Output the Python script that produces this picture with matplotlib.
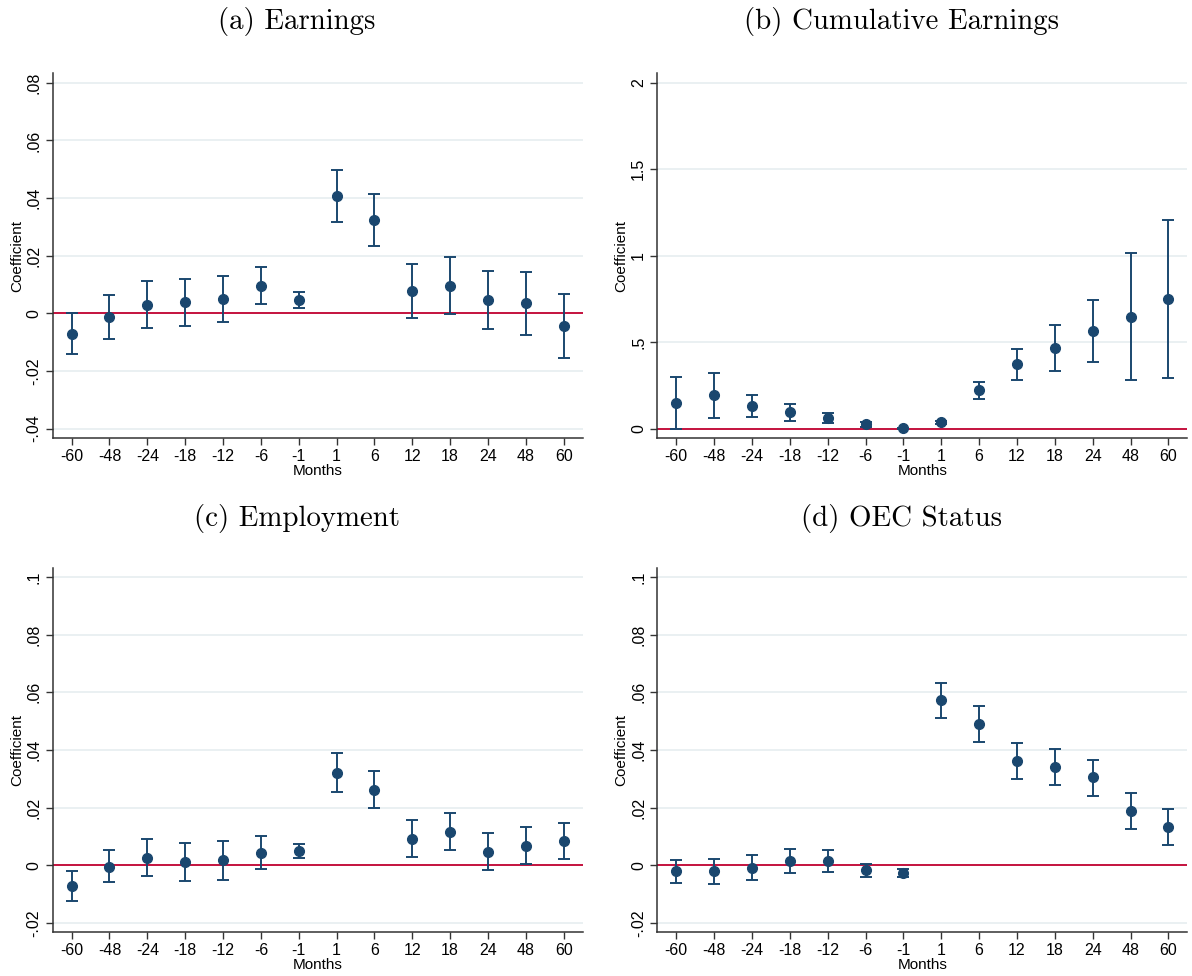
import matplotlib.pyplot as plt
import numpy as np

# event-time categories (months relative to event)
months = ['-60', '-48', '-24', '-18', '-12', '-6', '-1', '1', '6', '12', '18', '24', '48', '60']

# (a) earnings
earn_b = [-0.0071, -0.0013, 0.0029, 0.0038, 0.0050, 0.0095, 0.0046, 0.0407, 0.0323, 0.0077, 0.0096, 0.0046, 0.0034, -0.0043]
earn_lo = [-0.0141, -0.0088, -0.0051, -0.0043, -0.0031, 0.0031, 0.0018, 0.0318, 0.0232, -0.0015, -0.0002, -0.0053, -0.0074, -0.0154]
earn_hi = [0.0000, 0.0062, 0.0111, 0.0119, 0.0131, 0.0161, 0.0075, 0.0496, 0.0415, 0.0172, 0.0197, 0.0148, 0.0145, 0.0068]

# (b) cumulative earnings
cum_b = [0.150, 0.193, 0.129, 0.095, 0.062, 0.025, 0.002, 0.037, 0.222, 0.372, 0.469, 0.563, 0.648, 0.750]
cum_lo = [0.000, 0.062, 0.068, 0.044, 0.033, 0.010, -0.002, 0.027, 0.174, 0.282, 0.336, 0.386, 0.284, 0.295]
cum_hi = [0.301, 0.322, 0.193, 0.145, 0.091, 0.039, 0.006, 0.047, 0.270, 0.463, 0.600, 0.743, 1.013, 1.205]

# (c) employment
emp_b = [-0.0071, -0.0005, 0.0027, 0.0012, 0.0017, 0.0044, 0.0050, 0.0321, 0.0263, 0.0093, 0.0116, 0.0046, 0.0067, 0.0085]
emp_lo = [-0.0122, -0.0059, -0.0037, -0.0053, -0.0051, -0.0013, 0.0027, 0.0253, 0.0198, 0.0029, 0.0052, -0.0017, 0.0005, 0.0023]
emp_hi = [-0.0019, 0.0052, 0.0090, 0.0076, 0.0086, 0.0102, 0.0075, 0.0390, 0.0328, 0.0158, 0.0180, 0.0111, 0.0132, 0.0147]

# (d) OEC status
oec_b = [-0.0021, -0.0021, -0.0008, 0.0014, 0.0015, -0.0017, -0.0027, 0.0574, 0.0490, 0.0362, 0.0341, 0.0305, 0.0189, 0.0132]
oec_lo = [-0.0060, -0.0063, -0.0051, -0.0028, -0.0023, -0.0042, -0.0041, 0.0512, 0.0429, 0.0300, 0.0278, 0.0241, 0.0126, 0.0071]
oec_hi = [0.0017, 0.0021, 0.0036, 0.0056, 0.0052, 0.0006, -0.0013, 0.0633, 0.0552, 0.0424, 0.0404, 0.0367, 0.0251, 0.0194]

yt_a = [-0.04, -0.02, 0, 0.02, 0.04, 0.06, 0.08]
yl_a = ['-.04', '-.02', '0', '.02', '.04', '.06', '.08']
yt_b = [0, 0.5, 1, 1.5, 2]
yl_b = ['0', '.5', '1', '1.5', '2']
yt_c = [-0.02, 0, 0.02, 0.04, 0.06, 0.08, 0.1]
yl_c = ['-.02', '0', '.02', '.04', '.06', '.08', '.1']

navy = '#1a476f'
red = '#c4123f'
grid = '#e6eef0'
axcol = '#333333'

plt.rcParams['font.family'] = ['Liberation Sans', 'DejaVu Sans']

fig = plt.figure(figsize=(11.92, 9.76), dpi=100)


def panel(rect, b, lo, hi, yt, yl, ylim):
    ax = fig.add_axes(rect)
    x = np.arange(len(months))
    b = np.array(b)
    lo = np.array(lo)
    hi = np.array(hi)
    for t in yt:
        ax.axhline(t, color=grid, lw=1.2, zorder=0)
    ax.axhline(0, color=red, lw=1.4, zorder=1)
    ax.errorbar(x, b, yerr=[b - lo, hi - b], fmt='none', ecolor=navy,
                elinewidth=1.4, capsize=4.5, capthick=1.4, zorder=2)
    ax.plot(x, b, 'o', color=navy, ms=7, zorder=3)
    ax.set_xlim(-0.5, len(months) - 0.5)
    ax.set_ylim(*ylim)
    ax.set_xticks(x)
    ax.set_xticklabels(months)
    ax.set_yticks(yt)
    ax.set_yticklabels(yl, rotation=90, va='center')
    for s in ['top', 'right']:
        ax.spines[s].set_visible(False)
    for s in ['left', 'bottom']:
        ax.spines[s].set_color(axcol)
        ax.spines[s].set_linewidth(1.1)
    ax.tick_params(colors=axcol, labelcolor='black', labelsize=11.5,
                   length=5, width=1.0, pad=3)
    ax.set_xlabel('Months', fontsize=11, labelpad=0)
    ax.set_ylabel('Coefficient', fontsize=11, labelpad=2)
    return ax


panel([0.0442, 0.5512, 0.4446, 0.3737], earn_b, earn_lo, earn_hi, yt_a, yl_a, (-0.0433, 0.0833))
panel([0.5514, 0.5512, 0.4447, 0.3737], cum_b, cum_lo, cum_hi, yt_b, yl_b, (-0.054, 2.054))
panel([0.0442, 0.0448, 0.4446, 0.3729], emp_b, emp_lo, emp_hi, yt_c, yl_c, (-0.0232, 0.103))
panel([0.5514, 0.0448, 0.4447, 0.3729], oec_b, oec_lo, oec_hi, yt_c, yl_c, (-0.0232, 0.103))

tfont = dict(family='cmr10', fontsize=20.8, ha='center', va='center')
fig.text(0.249, 0.9775, '(a) Earnings', **tfont)
fig.text(0.756, 0.9775, '(b) Cumulative Earnings', **tfont)
fig.text(0.249, 0.469, '(c) Employment', **tfont)
fig.text(0.756, 0.469, '(d) OEC Status', **tfont)

fig.savefig('out.png', dpi=100)
